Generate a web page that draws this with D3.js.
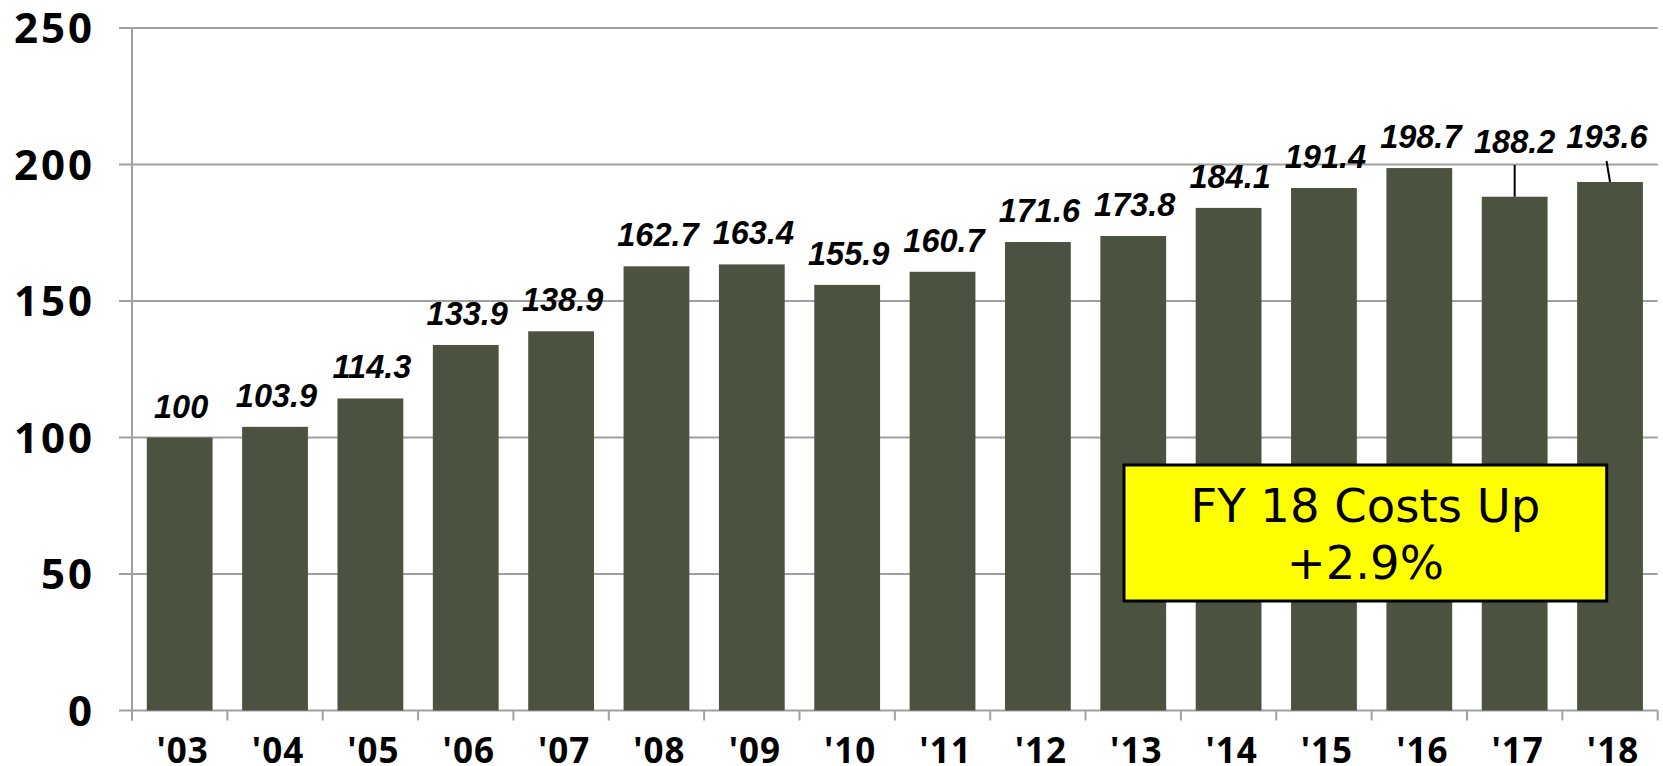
<!DOCTYPE html>
<html>
<head>
<meta charset="utf-8">
<script src="https://cdn.jsdelivr.net/npm/d3@7"></script>
<style>
  html, body { margin: 0; padding: 0; background: #fff; }
  svg { display: block; }
</style>
</head>
<body>
<svg id="chart" width="1663" height="766"></svg>
<script>
// ---- data ----
const categories = ["'03","'04","'05","'06","'07","'08","'09","'10","'11","'12","'13","'14","'15","'16","'17","'18"];
const values = [100, 103.9, 114.3, 133.9, 138.9, 162.7, 163.4, 155.9, 160.7, 171.6, 173.8, 184.1, 191.4, 198.7, 188.2, 193.6];
const valueLabels = ["100","103.9","114.3","133.9","138.9","162.7","163.4","155.9","160.7","171.6","173.8","184.1","191.4","198.7","188.2","193.6"];
const yTicks = [0, 50, 100, 150, 200, 250];
const annotationLines = ["FY 18 Costs Up", "+2.9%"];

(function () {
// ---- layout ----
const plotL = 132, plotR = 1657.7, plotT = 28, plotB = 710.5;
const svg = d3.select("#chart");

const x = d3.scaleBand().domain(categories).range([plotL, plotR]).paddingInner(0.31).paddingOuter(0.155);
const y = d3.scaleLinear().domain([0, 250]).range([plotB, plotT]);

const grid = "#a0a0a0";

// gridlines
svg.append("g").selectAll("line").data(yTicks).join("line")
  .attr("x1", plotL - 13).attr("x2", plotR)
  .attr("y1", d => y(d)).attr("y2", d => y(d))
  .attr("stroke", grid).attr("stroke-width", 2);

// y axis line
svg.append("line").attr("x1", plotL).attr("x2", plotL).attr("y1", plotT).attr("y2", plotB + 10)
  .attr("stroke", grid).attr("stroke-width", 2);

// x ticks at band boundaries
const bounds = d3.range(categories.length + 1).map(i => plotL + i * (plotR - plotL) / categories.length);
svg.append("g").selectAll("line").data(bounds).join("line")
  .attr("x1", d => d).attr("x2", d => d)
  .attr("y1", plotB).attr("y2", plotB + 10)
  .attr("stroke", grid).attr("stroke-width", 2);

// y tick labels
svg.append("g").selectAll("text").data(yTicks).join("text")
  .attr("x", 95).attr("y", d => y(d) + 15)
  .attr("text-anchor", "end")
  .attr("font-family", "'Open Sans', sans-serif").attr("font-weight", 700).attr("font-size", 42)
  .attr("letter-spacing", 3)
  .attr("fill", "#000")
  .text(d => d);

// x tick labels
svg.append("g").selectAll("text").data(categories).join("text")
  .attr("x", d => x(d) + x.bandwidth() / 2 + 3).attr("y", 763)
  .attr("text-anchor", "middle")
  .attr("font-family", "'Open Sans', sans-serif").attr("font-weight", 700).attr("font-size", 35)
  .attr("letter-spacing", 1)
  .attr("fill", "#000")
  .text(d => d);

// bars
svg.append("g").selectAll("rect").data(values).join("rect")
  .attr("x", (d, i) => x(categories[i]))
  .attr("width", x.bandwidth())
  .attr("y", d => y(d))
  .attr("height", d => y(0) - y(d))
  .attr("fill", "#4b5340");

// value labels (some lifted with leader lines)
const lifted = { "'17": { dx: 0, baseline: 153, line: [0, 165, 0] },
                 "'18": { dx: -3, baseline: 148, line: [-3.5, 161, 0] } };
const labG = svg.append("g");
values.forEach((v, i) => {
  const c = categories[i];
  const cx = x(c) + x.bandwidth() / 2;
  let ty = y(v) - 20, tx = cx + 1.5;
  if (lifted[c]) {
    const L = lifted[c];
    tx = cx + L.dx; ty = L.baseline;
    labG.append("line")
      .attr("x1", cx + L.line[0]).attr("y1", L.line[1])
      .attr("x2", cx + L.line[2]).attr("y2", y(v))
      .attr("stroke", "#000").attr("stroke-width", 2);
  }
  labG.append("text")
    .attr("x", tx).attr("y", ty)
    .attr("text-anchor", "middle")
    .attr("font-family", "'Liberation Sans', Arial, sans-serif")
    .attr("font-weight", 700).attr("font-style", "italic").attr("font-size", 32.5)
    .attr("fill", "#000")
    .text(valueLabels[i]);
});

// annotation box
const bx = 1124, by = 465, bw = 482.7, bh = 136;
svg.append("rect").attr("x", bx).attr("y", by).attr("width", bw).attr("height", bh)
  .attr("fill", "#ffff00").attr("stroke", "#000").attr("stroke-width", 3);
svg.append("g").selectAll("text").data(annotationLines).join("text")
  .attr("x", bx + bw / 2).attr("y", (d, i) => 521.7 + i * 57.3)
  .attr("text-anchor", "middle")
  .attr("font-family", "'DejaVu Sans', sans-serif").attr("font-size", 46.5)
  .attr("fill", "#000")
  .text(d => d);
})();
</script>
</body>
</html>
